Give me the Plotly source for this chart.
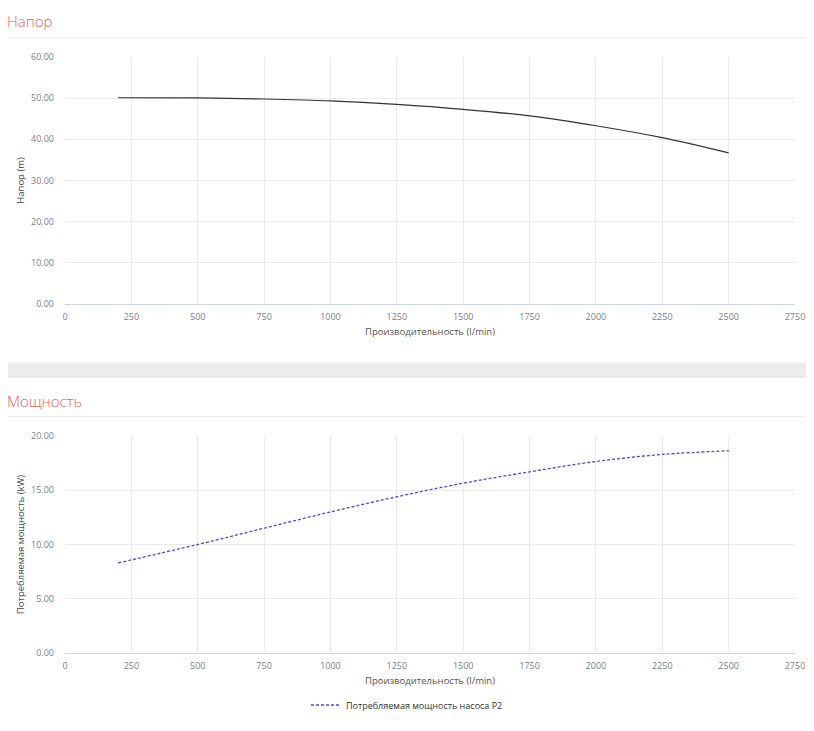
import plotly.graph_objects as go
from plotly.subplots import make_subplots

# page body has an 8px margin on every side, so the visible figure area
# starts 8px in from the corner and is 16px narrower/shorter than the window
OFF = 8
W, H = 814 - 2 * OFF, 731 - 2 * OFF

# flow, l/min
FLOW = [200, 500, 750, 1000, 1250, 1500, 1750, 2000, 2250, 2500]
# head curve, m
HEAD = [50.1, 50.05, 49.8, 49.35, 48.5, 47.3, 45.7, 43.3, 40.4, 36.7]
# power P2, kW
POWER = [8.3, 10.0, 11.5, 13.0, 14.4, 15.65, 16.7, 17.65, 18.3, 18.64]

X_TICKS = [0, 250, 500, 750, 1000, 1250, 1500, 1750, 2000, 2250, 2500, 2750]

RED = "#e8605f"
TICK_COL = "#7a7f8c"
FONT = "Open Sans"


def py(px):
    """screen pixel row -> paper y"""
    return 1 - (px - OFF) / H


def px_x(px):
    return (px - OFF) / W


fig = make_subplots(rows=2, cols=1)

fig.add_trace(go.Scatter(x=FLOW, y=HEAD, mode="lines", name="Напор",
                         line=dict(color="#333333", width=1.2),
                         line_shape="spline", showlegend=False), row=1, col=1)
fig.add_trace(go.Scatter(x=FLOW, y=POWER, mode="lines",
                         name="Потребляемая мощность насоса P2",
                         line=dict(color="#4a4af0", width=1.3, dash="3px,2px"),
                         line_shape="spline"), row=2, col=1)

xax = dict(range=[0, 2750], tickvals=X_TICKS, showgrid=True, gridcolor="#ebebeb",
           gridwidth=1, showline=True, linecolor="#ccd6eb", linewidth=1,
           zeroline=False, automargin=False, ticklabeloverflow="allow",
           tickfont=dict(size=9, color=TICK_COL, family=FONT),
           ticklabelstandoff=4,
           title=dict(text="Производительность (l/min)", standoff=6,
                      font=dict(size=9.5, color="#555", family=FONT)))
yax = dict(showgrid=True, gridcolor="#ebebeb", gridwidth=1, zeroline=False,
           showline=False, tickformat=".2f", automargin=False,
           tickfont=dict(size=9, color=TICK_COL, family=FONT),
           ticklabelstandoff=10)

fig.update_xaxes(**xax, domain=[px_x(65), px_x(795)])
fig.update_xaxes(anchor="y", row=1, col=1)
fig.update_xaxes(anchor="y2", row=2, col=1)
fig.update_yaxes(**yax)
fig.update_yaxes(range=[0, 60], dtick=10, domain=[py(304), py(57)],
                 title=dict(text="Напор (m)", standoff=4,
                            font=dict(size=9.5, color="#444", family=FONT)),
                 row=1, col=1)
fig.update_yaxes(range=[0, 20], dtick=5, domain=[py(653), py(436)],
                 title=dict(text="Потребляемая мощность (kW)", standoff=4,
                            font=dict(size=9.5, color="#444", family=FONT)),
                 row=2, col=1)

shapes = [
    dict(type="line", xref="paper", yref="paper", x0=px_x(5), x1=1,
         y0=py(38), y1=py(38), line=dict(color="#ececec", width=1)),
    dict(type="rect", xref="paper", yref="paper", x0=0, x1=1,
         y0=py(377), y1=py(363), fillcolor="#ececec",
         line=dict(width=0), layer="below"),
    dict(type="line", xref="paper", yref="paper", x0=0, x1=1,
         y0=py(377), y1=py(377), line=dict(color="#dddddd", width=1)),
    dict(type="line", xref="paper", yref="paper", x0=px_x(5), x1=1,
         y0=py(416.5), y1=py(416.5), line=dict(color="#ececec", width=1)),
]

annotations = [
    dict(text="Напор", xref="paper", yref="paper", x=px_x(5), y=py(21),
         xanchor="left", yanchor="middle", showarrow=False,
         font=dict(size=15, color=RED, family=FONT, weight=300)),
    dict(text="Мощность", xref="paper", yref="paper", x=px_x(5), y=py(401),
         xanchor="left", yanchor="middle", showarrow=False,
         font=dict(size=15, color=RED, family=FONT, weight=300)),
]

fig.update_layout(
    width=W, height=H, margin=dict(l=0, r=0, t=0, b=0, autoexpand=False),
    paper_bgcolor="white", plot_bgcolor="white",
    shapes=shapes, annotations=annotations,
    showlegend=True,
    legend=dict(orientation="h", x=0.5, xanchor="center", y=py(705),
                yanchor="middle", font=dict(size=9, color="#333", family=FONT),
                itemwidth=30),
)

fig.write_html("out.html")
